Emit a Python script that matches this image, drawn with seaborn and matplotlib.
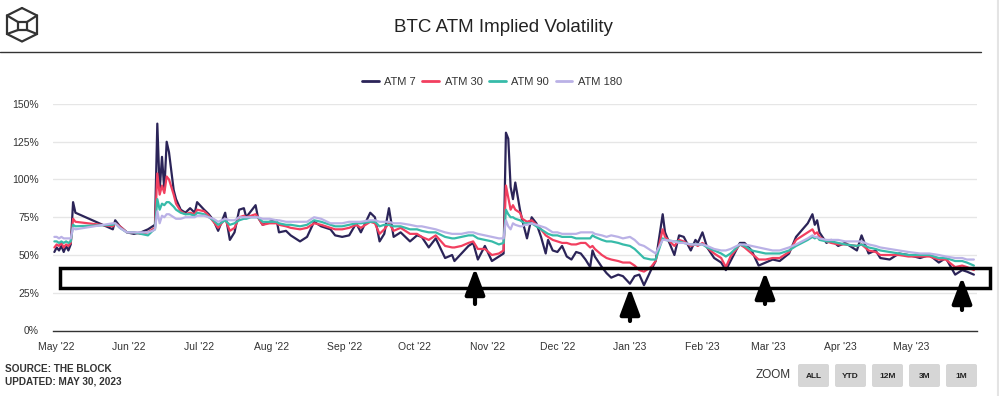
import matplotlib

matplotlib.use('Agg')

import matplotlib.pyplot as plt
import matplotlib.dates as mdates
import matplotlib.patches as mpatches
from matplotlib.lines import Line2D
from matplotlib.transforms import IdentityTransform
import pandas as pd
import seaborn as sns

# ---- data (implied vol, %) ----
dates = [
    # May '22
    '2022-04-30', '2022-05-01', '2022-05-02', '2022-05-03', '2022-05-04', '2022-05-05', '2022-05-06',
    '2022-05-07', '2022-05-08', '2022-05-09', '2022-05-25', '2022-05-26', '2022-05-28', '2022-05-31',
    # Jun '22
    '2022-06-03', '2022-06-06', '2022-06-09', '2022-06-11', '2022-06-12', '2022-06-13', '2022-06-14',
    '2022-06-15', '2022-06-16', '2022-06-17', '2022-06-18', '2022-06-20', '2022-06-21', '2022-06-23',
    '2022-06-25', '2022-06-27', '2022-06-29', '2022-06-30',
    # Jul '22
    '2022-07-03', '2022-07-05', '2022-07-07', '2022-07-09', '2022-07-12', '2022-07-14', '2022-07-16',
    '2022-07-18', '2022-07-20', '2022-07-21', '2022-07-23', '2022-07-25', '2022-07-26', '2022-07-28',
    '2022-07-31',
    # Aug '22
    '2022-08-03', '2022-08-04', '2022-08-07', '2022-08-09', '2022-08-13', '2022-08-16', '2022-08-19',
    '2022-08-22', '2022-08-26', '2022-08-28', '2022-08-31',
    # Sep '22
    '2022-09-03', '2022-09-06', '2022-09-08', '2022-09-12', '2022-09-14', '2022-09-16', '2022-09-18',
    '2022-09-20', '2022-09-22', '2022-09-25', '2022-09-29',
    # Oct '22
    '2022-10-02', '2022-10-04', '2022-10-07', '2022-10-10', '2022-10-14', '2022-10-17', '2022-10-18',
    '2022-10-21', '2022-10-24', '2022-10-26', '2022-10-28', '2022-10-31',
    # Nov '22
    '2022-11-03', '2022-11-06', '2022-11-08', '2022-11-09', '2022-11-10', '2022-11-11', '2022-11-12',
    '2022-11-13', '2022-11-15', '2022-11-16', '2022-11-17', '2022-11-18', '2022-11-20', '2022-11-22',
    '2022-11-24', '2022-11-26', '2022-11-27', '2022-11-29',
    # Dec '22
    '2022-12-01', '2022-12-03', '2022-12-05', '2022-12-07', '2022-12-09', '2022-12-11', '2022-12-13',
    '2022-12-15', '2022-12-16', '2022-12-17', '2022-12-20', '2022-12-22', '2022-12-24', '2022-12-27',
    '2022-12-29',
    # Jan '23
    '2023-01-01', '2023-01-03', '2023-01-05', '2023-01-07', '2023-01-10', '2023-01-12', '2023-01-15',
    '2023-01-16', '2023-01-20', '2023-01-22', '2023-01-24', '2023-01-27', '2023-01-29', '2023-01-30',
    # Feb '23
    '2023-02-01', '2023-02-03', '2023-02-06', '2023-02-09', '2023-02-11', '2023-02-13', '2023-02-17',
    '2023-02-19', '2023-02-22', '2023-02-25', '2023-02-28',
    # Mar '23
    '2023-03-03', '2023-03-06', '2023-03-10', '2023-03-13', '2023-03-18', '2023-03-20', '2023-03-21',
    '2023-03-22', '2023-03-23', '2023-03-26', '2023-03-28', '2023-03-31',
    # Apr '23
    '2023-04-03', '2023-04-08', '2023-04-10', '2023-04-13', '2023-04-16', '2023-04-18', '2023-04-22',
    '2023-04-26', '2023-04-30',
    # May '23
    '2023-05-05', '2023-05-09', '2023-05-13', '2023-05-16', '2023-05-20', '2023-05-23', '2023-05-25',
    '2023-05-28',
]

atm7 = [
    52, 55, 53, 56, 52, 56, 53, 57, 85, 78, 67, 73, 69, 65,
    64, 65, 67, 69, 70, 137, 93, 115, 93, 125, 118, 93, 87, 80, 78, 81, 78, 85,
    80, 77, 73, 66, 78, 60, 65, 80, 81, 75, 79, 83, 75, 70, 72,
    73, 65, 66, 63, 59, 62, 72, 69, 67, 63, 62,
    63, 71, 65, 78, 75, 59, 64, 81, 62, 65, 59,
    63, 62, 55, 61, 48, 50, 46, 51, 56, 58, 47, 56,
    46, 49, 51, 131, 127, 95, 87, 98, 80, 73, 67, 61, 75, 71, 62, 51, 60, 53,
    52, 56, 49, 47, 52, 51, 47, 42, 53, 49, 42, 38, 35, 37, 36,
    31, 36, 37, 30, 40, 46, 77, 65, 50, 63, 62, 53, 60, 58,
    65, 55, 48, 45, 40, 46, 58, 58, 53, 43, 45,
    47, 46, 51, 62, 71, 77, 70, 73, 65, 58, 60, 56,
    58, 53, 63, 51, 53, 48, 47, 51, 50,
    48, 50, 45, 48, 37, 40, 39, 37,
]
atm30 = [
    55, 57, 56, 58, 55, 57, 56, 58, 74, 72, 69, 71, 69, 65,
    65, 64, 65, 67, 68, 104, 90, 96, 91, 102, 100, 90, 84, 79, 77, 78, 77, 80,
    79, 76, 72, 68, 74, 66, 68, 75, 76, 75, 76, 77, 75, 70, 71,
    71, 70, 69, 68, 67, 68, 71, 70, 68, 67, 67,
    68, 70, 68, 72, 71, 64, 67, 71, 66, 68, 64,
    64, 62, 60, 63, 56, 55, 55, 56, 58, 59, 54, 54,
    50, 51, 53, 96, 88, 80, 83, 80, 78, 74, 73, 72, 73, 70, 67, 63, 62, 60,
    59, 58, 58, 57, 57, 58, 58, 55, 56, 54, 50, 48, 47, 46, 45,
    45, 43, 40, 39, 42, 46, 67, 62, 56, 60, 59, 56, 57, 56,
    58, 55, 51, 48, 42, 49, 57, 55, 51, 47, 47,
    48, 48, 52, 60, 65, 67, 64, 65, 62, 59, 58, 57,
    57, 56, 57, 53, 52, 50, 50, 50, 49,
    49, 49, 47, 47, 42, 43, 42, 40,
]
atm90 = [
    59, 59, 58, 59, 58, 59, 58, 59, 70, 69, 70, 71, 68, 65,
    65, 64, 63, 66, 67, 87, 80, 84, 83, 85, 85, 82, 80, 78, 77, 77, 76, 78,
    77, 75, 73, 70, 73, 70, 71, 73, 74, 74, 75, 75, 75, 72, 72,
    72, 71, 70, 70, 69, 70, 73, 72, 70, 69, 69,
    70, 71, 71, 72, 72, 69, 70, 70, 69, 69, 67,
    67, 66, 65, 65, 62, 61, 61, 62, 63, 63, 61, 60,
    59, 57, 58, 80, 77, 75, 75, 74, 73, 72, 71, 71, 71, 69, 67, 65, 64, 63,
    63, 62, 62, 62, 61, 61, 61, 61, 63, 62, 60, 59, 59, 58, 57,
    56, 54, 51, 48, 47, 47, 61, 60, 59, 59, 58, 57, 57, 57,
    57, 55, 53, 51, 49, 51, 57, 56, 53, 52, 51,
    51, 51, 53, 56, 60, 62, 61, 62, 60, 59, 59, 58,
    57, 56, 57, 55, 54, 53, 52, 51, 50,
    50, 50, 48, 48, 46, 46, 45, 43,
]
atm180 = [
    62, 62, 61, 62, 61, 61, 61, 61, 68, 67, 71, 71, 68, 65,
    65, 65, 65, 66, 67, 79, 71, 76, 75, 77, 77, 75, 74, 74, 75, 75, 75, 76,
    76, 75, 74, 72, 74, 73, 73, 75, 75, 75, 75, 75, 75, 74, 74,
    73, 73, 72, 72, 72, 72, 75, 74, 71, 71, 71,
    72, 72, 72, 73, 73, 72, 72, 72, 71, 71, 70,
    69, 69, 68, 67, 65, 64, 64, 64, 65, 65, 64, 63,
    62, 61, 61, 73, 69, 67, 71, 70, 69, 69, 70, 70, 71, 70, 69, 68, 67, 65,
    65, 64, 64, 64, 64, 65, 65, 65, 65, 64, 63, 62, 63, 62, 61,
    62, 60, 57, 56, 53, 51, 60, 60, 59, 58, 58, 57, 57, 57,
    57, 56, 54, 53, 53, 54, 57, 57, 56, 55, 54,
    53, 53, 55, 57, 61, 63, 62, 62, 61, 60, 60, 60,
    59, 59, 59, 57, 56, 55, 54, 53, 52,
    51, 51, 50, 49, 48, 48, 47, 47,
]

series_names = ['ATM 7', 'ATM 30', 'ATM 90', 'ATM 180']
series_colors = ['#2b2458', '#f23f5f', '#37bba9', '#bab1e6']
y_ticks = [0, 25, 50, 75, 100, 125, 150]
zoom_buttons = ['ALL', 'YTD', '12M', '3M', '1M']

W, H = 999, 396


def px(x, y):
    # reference pixel (top-left origin) -> display pixels
    return x, H - y


df = pd.DataFrame({'date': pd.to_datetime(dates), 'ATM 7': atm7, 'ATM 30': atm30,
                   'ATM 90': atm90, 'ATM 180': atm180})
long_df = df.melt(id_vars='date', var_name='series', value_name='iv')

sns.set_style('white')
plt.rcParams['font.family'] = ['Liberation Sans', 'DejaVu Sans']

fig = plt.figure(figsize=(W / 100, H / 100), dpi=100)
ax = fig.add_axes([53 / W, (H - 330.5) / H, (977 - 53) / W, (330.5 - 104) / H])

sns.lineplot(data=long_df, x='date', y='iv', hue='series', hue_order=series_names,
             palette=series_colors, linewidth=1.6, legend=False, ax=ax)

ax.set_ylim(0, 150)
ax.set_xlim(pd.Timestamp('2022-04-29 10:00'), pd.Timestamp('2023-05-29 08:00'))
ax.set_yticks(y_ticks)
ax.set_yticklabels([f'{t}%' for t in y_ticks])
ax.xaxis.set_major_locator(mdates.MonthLocator())
ax.xaxis.set_major_formatter(mdates.DateFormatter("%b '%y"))
ax.set_xlabel('')
ax.set_ylabel('')
ax.yaxis.grid(True, color='#e6e6e6', linewidth=1)
ax.xaxis.grid(False)
ax.set_axisbelow(True)
for side in ['top', 'right', 'left']:
    ax.spines[side].set_visible(False)
ax.spines['bottom'].set_color('#333333')
ax.spines['bottom'].set_linewidth(1)
ax.tick_params(axis='y', length=0, pad=10, labelsize=7.5, labelcolor='#333333')
ax.tick_params(axis='x', length=0, pad=8, labelsize=7.5, labelcolor='#333333')

# legend
handles = [Line2D([], [], color=c, lw=2) for c in series_colors]
fig.legend(handles, series_names, loc='center', bbox_to_anchor=(492 / W, 1 - 82 / H), ncol=4,
           frameon=False, fontsize=8, handlelength=1.5, handletextpad=0.5, columnspacing=0.6,
           labelcolor='#333333')

# title + header rule
fig.text(503 / W, 1 - 27 / H, 'BTC ATM Implied Volatility', ha='center', va='center',
         fontsize=13.5, color='#222222')
fig.add_artist(Line2D([0, 981 / W], [1 - 52 / H, 1 - 52 / H], color='#333333', lw=1,
                      transform=fig.transFigure))
fig.add_artist(Line2D([997.5 / W, 997.5 / W], [0, 1], color='#e4e4e4', lw=1.5,
                      transform=fig.transFigure))

# logo (cube)
idt = IdentityTransform()
hexagon = [(22, 8), (37, 15.5), (37, 34), (22, 41.5), (7, 34), (7, 15.5), (22, 8)]
logo_lines = [hexagon,
              [(18, 22), (27, 22), (27, 30), (18, 30), (18, 22)],
              [(7, 15.5), (18, 22)], [(37, 15.5), (27, 22)],
              [(7, 34), (18, 30)], [(37, 34), (27, 30)]]
for seg in logo_lines:
    xs = [px(*p)[0] for p in seg]
    ys = [px(*p)[1] for p in seg]
    fig.add_artist(Line2D(xs, ys, color='#333333', lw=1.6, transform=idt,
                          solid_joinstyle='miter'))

# source note
fig.text(*px(5, 369), 'SOURCE: THE BLOCK', transform=idt, ha='left', va='center',
         fontsize=7.2, fontweight='bold', color='#333333')
fig.text(*px(5, 382), 'UPDATED: MAY 30, 2023', transform=idt, ha='left', va='center',
         fontsize=7.2, fontweight='bold', color='#333333')

# zoom buttons
fig.text(*px(773, 375), 'ZOOM', transform=idt, ha='center', va='center', fontsize=8.5,
         color='#333333')
for i, lab in enumerate(zoom_buttons):
    x0 = 798 + i * 37
    x_left, y_bot = px(x0, 387)
    fig.add_artist(mpatches.FancyBboxPatch((x_left, y_bot), 31, 23,
                                           boxstyle='round,pad=0,rounding_size=2',
                                           transform=idt, facecolor='#d6d6d6',
                                           edgecolor='none'))
    fig.text(*px(x0 + 15.5, 376.5), lab, transform=idt, ha='center', va='center',
             fontsize=6, fontweight='bold', color='#222222')

# hand-drawn annotation: box and arrows
x0, y0 = px(60, 287.5)
fig.add_artist(mpatches.Rectangle((x0, y0), 930, 20, transform=idt, fill=False,
                                  edgecolor='black', lw=2.5))
arrow_specs = [(475, 304, 268), (630, 321, 288), (765, 304, 272), (962, 310, 277)]
for ax_x, y_tail, y_tip in arrow_specs:
    fig.add_artist(mpatches.FancyArrowPatch(px(ax_x, y_tail), px(ax_x, y_tip), transform=idt,
                                            arrowstyle='-|>,head_length=0.8,head_width=0.3',
                                            mutation_scale=20, lw=3, color='black',
                                            shrinkA=0, shrinkB=0))

fig.savefig('out.png', dpi=100)
